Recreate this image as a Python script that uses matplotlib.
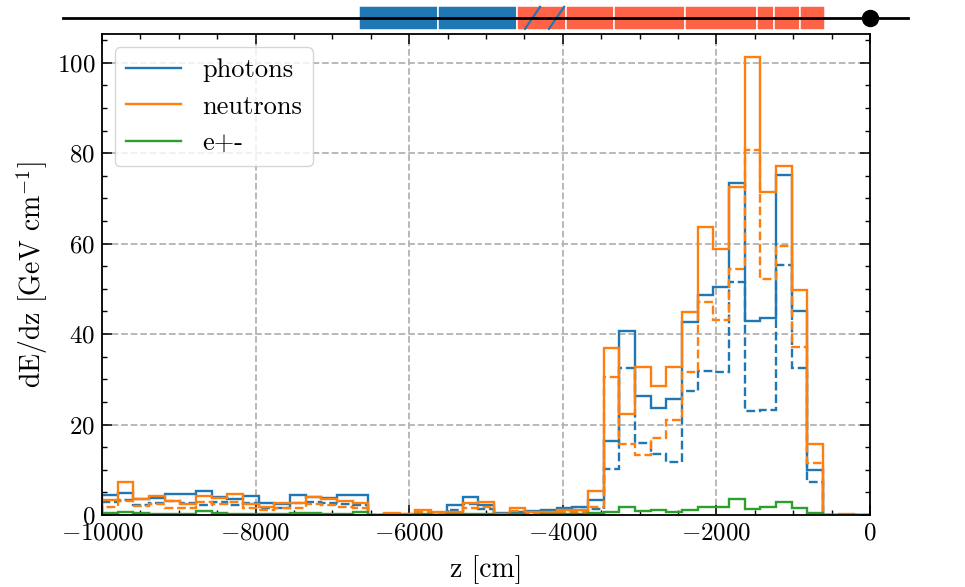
"""Longitudinal energy deposition profile along the beam line, per particle type."""

import numpy as np
import matplotlib
matplotlib.use("Agg")
import matplotlib.pyplot as plt
import matplotlib.transforms as mtransforms
from matplotlib.lines import Line2D
from matplotlib.patches import Rectangle

plt.rcParams.update({
    "font.family": "serif",
    "font.serif": ["cmr10"],
    "mathtext.fontset": "cm",
    "axes.formatter.use_mathtext": True,
    "font.size": 18,
    "axes.linewidth": 1.3,
})

# z binning: 49 bins over the last 100 m upstream of the IP
z_edges = np.linspace(-10000, 0, 50)

# dE/dz per bin [GeV/cm]; solid = total, dashed = second component
photons_total = [
    4.4, 4.9, 3.5, 3.8, 4.6, 4.6, 5.2, 3.9, 3.5, 4.2, 2.6, 2.4, 4.4, 4.0, 3.8, 4.4,
    4.4, 0.0, 0.0, 0.0, 0.0, 0.0, 2.1, 3.9, 2.2, 0.5, 0.7, 0.9, 1.1, 1.5, 1.7, 3.3,
    16.4, 40.6, 26.4, 23.6, 25.6, 42.7, 48.7, 50.4, 73.5, 42.8, 43.5, 75.2, 45.1, 10.0,
    0.0, 0.0, 0.0,
]
photons_part = [
    2.8, 3.3, 2.3, 2.6, 3.0, 2.6, 2.2, 2.8, 2.3, 2.6, 1.6, 1.5, 2.6, 2.9, 2.7, 2.5,
    2.2, 0.0, 0.0, 0.0, 0.0, 0.0, 1.2, 2.4, 1.3, 0.3, 0.4, 0.5, 0.7, 1.0, 1.1, 1.3,
    10.1, 32.4, 15.9, 13.5, 11.7, 27.5, 31.9, 31.7, 51.6, 22.9, 23.2, 55.2, 32.6, 7.2,
    0.0, 0.0, 0.0,
]
neutrons_total = [
    3.4, 7.2, 3.5, 4.2, 3.0, 2.5, 4.2, 3.7, 4.6, 2.4, 1.8, 2.6, 2.6, 4.0, 3.6, 3.0,
    2.6, 0.0, 0.5, 0.3, 1.1, 0.7, 0.7, 2.6, 2.8, 0.3, 1.5, 0.6, 0.7, 1.2, 1.1, 5.3,
    36.9, 22.3, 32.8, 28.5, 32.7, 44.8, 63.6, 58.8, 72.6, 101.3, 71.5, 77.1, 49.8, 15.6,
    0.0, 0.3, 0.0,
]
neutrons_part = [
    1.8, 3.0, 2.0, 2.5, 1.6, 1.5, 2.8, 2.5, 2.9, 1.5, 1.0, 1.5, 1.5, 2.5, 2.2, 1.8,
    1.5, 0.0, 0.3, 0.2, 0.7, 0.4, 0.4, 1.6, 1.7, 0.2, 0.9, 0.4, 0.4, 0.7, 0.7, 1.7,
    30.6, 15.6, 13.3, 17.1, 21.0, 31.6, 47.1, 43.1, 54.5, 80.6, 52.1, 59.5, 37.1, 11.4,
    0.0, 0.0, 0.0,
]
electrons_total = [
    0.5, 0.6, 0.4, 0.3, 0.2, 0.3, 0.8, 0.4, 0.3, 0.2, 0.2, 0.3, 0.4, 0.5, 0.3, 0.3,
    0.6, 0.0, 0.1, 0.1, 0.2, 0.1, 0.2, 0.3, 0.3, 0.1, 0.2, 0.1, 0.2, 0.2, 0.3, 0.5,
    0.7, 1.7, 0.9, 1.1, 0.6, 1.1, 1.7, 1.7, 3.5, 1.3, 1.7, 2.9, 1.5, 0.5,
    0.0, 0.0, 0.0,
]

series = [
    ("photons", "tab:blue", photons_total, photons_part),
    ("neutrons", "tab:orange", neutrons_total, neutrons_part),
    ("e+-", "tab:green", electrons_total, None),
]

# beam-line layout along z [cm]
blue_blocks = [(-6650, -5625), (-5625, -4600)]
hatched_block = (-4600, -3965)
hatch_lines = [(-4492, -4297), (-4180, -3984)]
red_blocks = [(-3965, -3335), (-3335, -2405), (-2405, -1473),
              (-1473, -1245), (-1245, -911), (-911, -590)]
beamline_span = (-10508, 495)
ip_z = 0.0

fig = plt.figure(figsize=(9.65, 5.87), dpi=100)
ax = fig.add_axes([0.1057, 0.1227, 0.7959, 0.8189])

for label, color, total, part in series:
    ax.stairs(total, z_edges, color=color, linewidth=1.7, label=label, baseline=0)
    if part is not None:
        ax.stairs(part, z_edges, color=color, linewidth=1.7, linestyle="--", baseline=0)

ax.set_xlim(-10000, 0)
ax.set_ylim(0, 106.3)
ax.set_xlabel("z [cm]", fontsize=20, labelpad=8)
ax.set_ylabel(r"dE/dz [GeV cm$^{-1}$]", fontsize=20, labelpad=5)
ax.xaxis.set_minor_locator(matplotlib.ticker.AutoMinorLocator(4))
ax.yaxis.set_minor_locator(matplotlib.ticker.AutoMinorLocator(4))
ax.tick_params(which="both", direction="in", top=True, right=True)
ax.tick_params(which="major", length=7, width=1.1, pad=5)
ax.tick_params(which="minor", length=3.5, width=1.0)
ax.grid(True, which="major", color="0.7", linestyle="--", linewidth=1.3)
ax.set_axisbelow(True)
ax.legend(loc="upper left", fontsize=19, handlelength=2.1)

# beam-line sketch above the axes: x in data units, y in figure fraction.
# Added at figure level so the beam line is drawn after (on top of) the blocks.
trans = mtransforms.blended_transform_factory(ax.transData, fig.transFigure)
y0, y1 = 0.9489, 0.9903
y_line = 0.9698
for z0, z1 in blue_blocks:
    fig.add_artist(Rectangle((z0, y0), z1 - z0, y1 - y0, transform=trans,
                             facecolor="tab:blue", edgecolor="white", linewidth=1.1, zorder=3))
z0, z1 = hatched_block
fig.add_artist(Rectangle((z0, y0), z1 - z0, y1 - y0, transform=trans,
                         facecolor="tomato", edgecolor="white", linewidth=1.1, zorder=3))
for z0, z1 in red_blocks:
    fig.add_artist(Rectangle((z0, y0), z1 - z0, y1 - y0, transform=trans,
                             facecolor="tomato", edgecolor="white", linewidth=1.1, zorder=3))
for za, zb in hatch_lines:
    fig.add_artist(Line2D([za, zb], [y0 + 0.002, y1 - 0.002], transform=trans,
                          color="tab:blue", linewidth=1.6, zorder=4))
fig.add_artist(Line2D(beamline_span, [y_line, y_line], transform=trans,
                      color="black", linewidth=2.0, zorder=5))
fig.add_artist(Line2D([ip_z], [y_line], transform=trans, marker="o", markersize=11.5,
                      linestyle="none", color="black", zorder=6))

fig.savefig("out.png", dpi=100)
